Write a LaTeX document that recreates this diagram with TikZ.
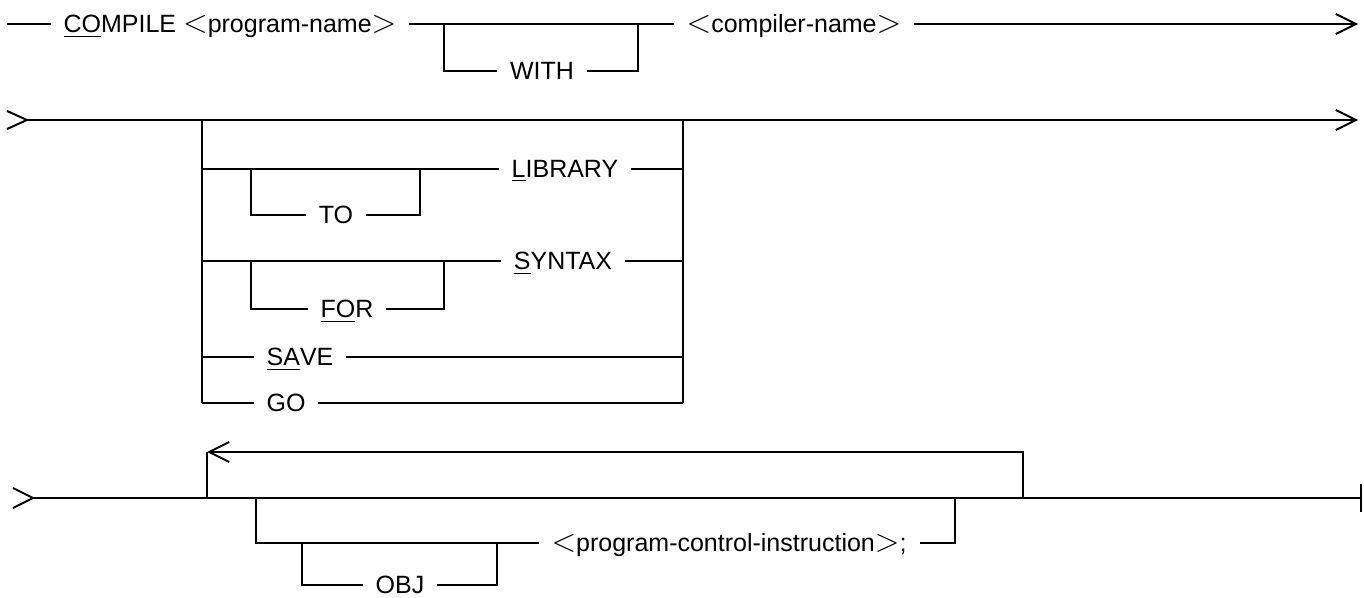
\documentclass[tikz,border=0pt]{standalone}
\usepackage{fontspec}
\usepackage{graphicx}
\setmainfont{Liberation Sans}
\usetikzlibrary{arrows.meta}
\newcommand{\ltsym}{\scalebox{1.35}{$<$}}
\newcommand{\gtsym}{\scalebox{1.35}{$>$}}

\begin{document}
\begin{tikzpicture}[x=0.5pt, y=-0.5pt, line width=1pt, every node/.style={font=\fontsize{12.5}{14}\selectfont}, lbl/.style={inner xsep=6pt, inner ysep=0pt, text height=8.9pt, text depth=0pt}, arr/.style={-{Straight Barb[length=10pt,width=10pt]}}]
\useasboundingbox (0,0) rectangle (1364,598);
\coordinate (s1) at (7,24); \coordinate (e1) at (1358,24);
\node[lbl] (compile) at (230,24) {\underline{CO}MPILE \ltsym program-name\gtsym};
\node[lbl] (with) at (542,71) {WITH};
\node[lbl] (compname) at (794,24) {\ltsym compiler-name\gtsym};
\coordinate (w1) at (444,24); \coordinate (w2) at (638,24);
\draw[arr] (s1) -- (compile) -- (compname) -- (e1);
\draw (w1) |- (with) -| (w2);
\coordinate (in2) at (27,120); \coordinate (e2) at (1358,120);
\draw (in2) -- ++(-20,-9) (in2) -- ++(-20,9);
\draw[arr] (in2) -- (e2);
\coordinate (c1) at (202,120); \coordinate (c2) at (683,120);
\coordinate (g1) at (202,403); \coordinate (g2) at (683,403);
\draw (c1) -- (g1) (c2) -- (g2);
\node[lbl] (library) at (565,169) {\underline{L}IBRARY};
\node[lbl] (to) at (336,215) {TO};
\coordinate (l1) at (202,169); \coordinate (l2) at (683,169);
\coordinate (t1) at (251,169); \coordinate (t2) at (420,169);
\draw (l1) -- (library) -- (l2); \draw (t1) |- (to) -| (t2);
\node[lbl] (syntax) at (563,261) {\underline{S}YNTAX};
\node[lbl] (for) at (347,309) {\underline{FO}R};
\coordinate (y1) at (202,261); \coordinate (y2) at (683,261);
\coordinate (f1) at (251,261); \coordinate (f2) at (444,261);
\draw (y1) -- (syntax) -- (y2); \draw (f1) |- (for) -| (f2);
\node[lbl] (save) at (300,357) {\underline{SA}VE};
\coordinate (v1) at (202,357); \coordinate (v2) at (683,357);
\draw (v1) -- (save) -- (v2);
\node[lbl] (go) at (286,403) {GO};
\draw (g1) -- (go) -- (g2);
\coordinate (in3) at (33,498); \coordinate (e3) at (1362,498);
\draw (in3) -- ++(-20,-10) (in3) -- ++(-20,10);
\draw[-{Bar[width=14pt]}] (in3) -- (e3);
\coordinate (r1) at (207,498); \coordinate (r1t) at (207,452); \coordinate (r2) at (1023,498);
\draw (r1) -- (r1t); \draw[arr] (r2) |- (r1t);
\node[lbl] (pci) at (729,543) {\ltsym program-control-instruction\gtsym;};
\node[lbl] (obj) at (400,585) {OBJ};
\coordinate (o1) at (256,498); \coordinate (o2) at (955,498);
\coordinate (b1) at (302,543); \coordinate (b2) at (497,543);
\draw (o1) |- (pci) -| (o2); \draw (b1) |- (obj) -| (b2);
\end{tikzpicture}
\end{document}
